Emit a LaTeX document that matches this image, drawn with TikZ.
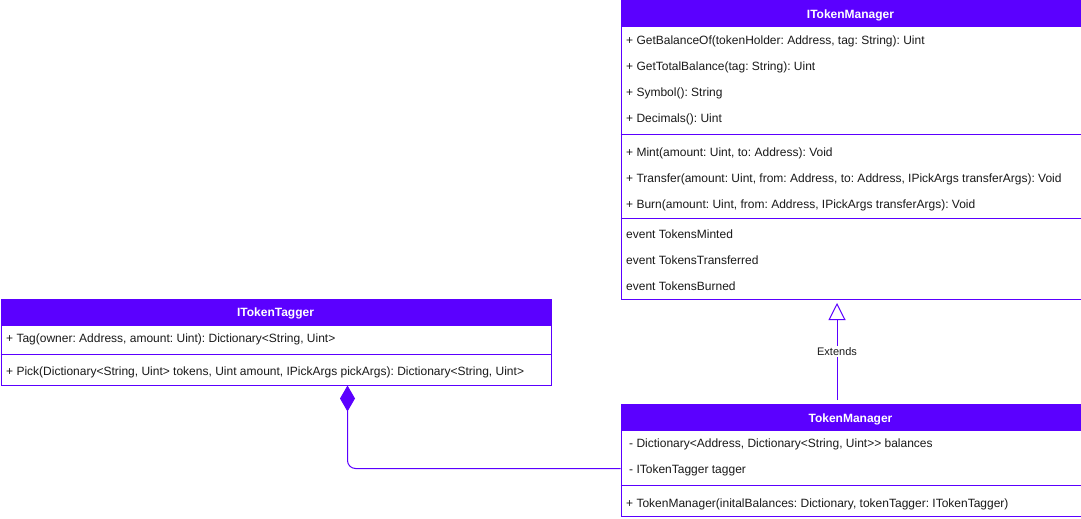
\documentclass[tikz,border=0pt]{standalone}
\usepackage{fontspec}
\setmainfont{Liberation Sans}
\usetikzlibrary{arrows.meta}
\definecolor{umlpurple}{HTML}{5B00FF}
\definecolor{umltext}{HTML}{1A1A1A}
\frenchspacing
\tikzset{
  classbox/.style={draw=umlpurple, line width=1pt, fill=white, inner sep=0pt, anchor=north west},
  classhead/.style={draw=umlpurple, line width=1pt, fill=umlpurple, inner sep=0pt, anchor=north west, minimum height=26pt},
  headtext/.style={anchor=base, inner sep=0pt, text=white, font=\fontsize{12}{14}\selectfont\bfseries},
  row/.style={anchor=base west, inner sep=0pt, text=umltext, font=\fontsize{12}{14}\selectfont},
  sep/.style={draw=umlpurple, line width=1pt},
  conn/.style={draw=umlpurple, line width=1pt},
  lbl/.style={fill=white, inner sep=1pt, text=umltext, font=\fontsize{11}{13}\selectfont},
}
\begin{document}
\begin{tikzpicture}[x=1pt,y=-1pt]
\useasboundingbox (0,0) rectangle (1081,519);
% ITokenManager
\node[classbox, minimum width=460pt, minimum height=298pt] (itm) at (620.5,0.5) {};
\node[classhead, minimum width=460pt] (itmh) at (620.5,0.5) {};
\node[headtext] (itmt) at (850.5,18.7) {ITokenManager};
\node[row] (itm1) at (626,44.5) {+ GetBalanceOf(tokenHolder: Address, tag: String): Uint};
\node[row] (itm2) at (626,70.5) {+ GetTotalBalance(tag: String): Uint};
\node[row] (itm3) at (626,96.5) {+ Symbol(): String};
\node[row] (itm4) at (626,122.5) {+ Decimals(): Uint};
\draw[sep] (itm.west |- 0,134.5) -- (itm.east |- 0,134.5);
\node[row] (itm5) at (626,156.5) {+ Mint(amount: Uint, to: Address): Void};
\node[row] (itm6) at (626,182.5) {+ Transfer(amount: Uint, from: Address, to: Address, IPickArgs transferArgs): Void};
\node[row] (itm7) at (626,208.5) {+ Burn(amount: Uint, from: Address, IPickArgs transferArgs): Void};
\draw[sep] (itm.west |- 0,218.5) -- (itm.east |- 0,218.5);
\node[row] (itm8) at (626,238.5) {event TokensMinted};
\node[row] (itm9) at (626,264.5) {event TokensTransferred};
\node[row] (itm10) at (626,290.5) {event TokensBurned};
% ITokenTagger
\node[classbox, minimum width=550pt, minimum height=86pt] (itt) at (0.5,298.5) {};
\node[classhead, minimum width=550pt] (itth) at (0.5,298.5) {};
\node[headtext] (ittt) at (275.5,316.7) {ITokenTagger};
\node[row] (itt1) at (6,342) {+ Tag(owner: Address, amount: Uint): Dictionary<String, Uint>};
\draw[sep] (itt.west |- 0,354.5) -- (itt.east |- 0,354.5);
\node[row] (itt2) at (6,375.5) {+ Pick(Dictionary<String, Uint> tokens, Uint amount, IPickArgs pickArgs): Dictionary<String, Uint>};
% TokenManager
\node[classbox, minimum width=460pt, minimum height=112pt] (tm) at (620.5,403.5) {};
\node[classhead, minimum width=460pt] (tmh) at (620.5,403.5) {};
\node[headtext] (tmt) at (850.5,422.5) {TokenManager};
\node[row] (tm1) at (629,447) {- Dictionary<Address, Dictionary<String, Uint>{}> balances};
\node[row] (tm2) at (629,473) {- ITokenTagger tagger};
\draw[sep] (tm.west |- 0,485.5) -- (tm.east |- 0,485.5);
\node[row] (tm3) at (626,507) {+ TokenManager(initalBalances: Dictionary, tokenTagger: ITokenTagger)};
% Extends
\draw[conn, -{Triangle[open, length=17pt, width=17pt, fill=white]}, shorten <=3.5pt, shorten >=3.5pt]
  ([xshift=-14pt]tm.north) -- node[lbl] (ext) {Extends} ([xshift=-14pt]itm.south);
% Composition
\coordinate (corner) at (347.5,468.5);
\draw[conn, {Diamond[length=26pt, width=15pt, fill=umlpurple]}-, rounded corners=8pt]
  (itt.south -| corner) -- (corner) -- (corner -| tm.west);
\end{tikzpicture}
\end{document}
